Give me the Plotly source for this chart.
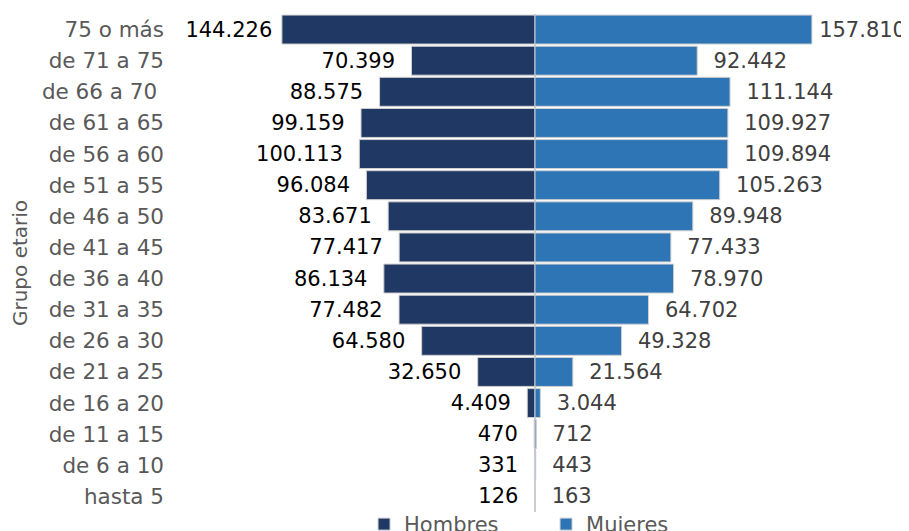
import plotly.graph_objects as go

categories = ["hasta 5", "de 6 a 10", "de 11 a 15", "de 16 a 20", "de 21 a 25",
              "de 26 a 30", "de 31 a 35", "de 36 a 40", "de 41 a 45", "de 46 a 50",
              "de 51 a 55", "de 56 a 60", "de 61 a 65", "de 66 a 70 ", "de 71 a 75",
              "75 o más"]
hombres = [126, 331, 470, 4409, 32650, 64580, 77482, 86134, 77417, 83671,
           96084, 100113, 99159, 88575, 70399, 144226]
mujeres = [163, 443, 712, 3044, 21564, 49328, 64702, 78970, 77433, 89948,
           105263, 109894, 109927, 111144, 92442, 157810]

def fmt(v):
    return f"{v:,}".replace(",", ".")

FONT = "DejaVu Sans"
top = len(categories) - 1

fig = go.Figure()
fig.add_trace(go.Bar(
    y=categories, x=[-v for v in hombres], orientation="h", name="Hombres",
    marker=dict(color="#203864", line=dict(color="#D0D0D0", width=1)),
    text=[fmt(v) + (" " if i == top else "  ") for i, v in enumerate(hombres)],
    textposition="outside",
    textfont=dict(color="#000000", size=21, family=FONT),
    constraintext="none", cliponaxis=False, hoverinfo="skip",
))
fig.add_trace(go.Bar(
    y=categories, x=mujeres, orientation="h", name="Mujeres",
    marker=dict(color="#2E75B6", line=dict(color="#D0D0D0", width=1)),
    text=[("\u2009" if i == top else "  ") + fmt(v) for i, v in enumerate(mujeres)],
    textposition="outside",
    textfont=dict(color="#404040", size=21, family=FONT),
    constraintext="none", cliponaxis=False, hoverinfo="skip",
))

fig.update_layout(
    width=909, height=531,
    margin=dict(l=162, r=17, t=6, b=27, autoexpand=False),
    barmode="overlay", bargap=0.07,
    paper_bgcolor="white", plot_bgcolor="white",
    font=dict(family=FONT, size=21, color="#595959"),
    xaxis=dict(range=[-208000, 208000], showticklabels=False, showgrid=False,
               zeroline=True, zerolinecolor="#D0D0D0", zerolinewidth=2,
               showline=False, fixedrange=True),
    yaxis=dict(categoryorder="array", categoryarray=categories,
               showgrid=False, ticks="", showline=False, ticklabelstandoff=5,
               tickfont=dict(size=21.5, color="#595959", family=FONT),
               title=dict(text="Grupo etario", font=dict(size=20, color="#595959", family=FONT),
                          standoff=8)),
    legend=dict(orientation="h", x=0.2658, xanchor="left", y=-0.025, yanchor="middle",
                bgcolor="rgba(0,0,0,0)",
                font=dict(size=21, color="#595959", family=FONT),
                entrywidth=137, traceorder="normal"),
    showlegend=True,
)

fig.write_html("out.html")
